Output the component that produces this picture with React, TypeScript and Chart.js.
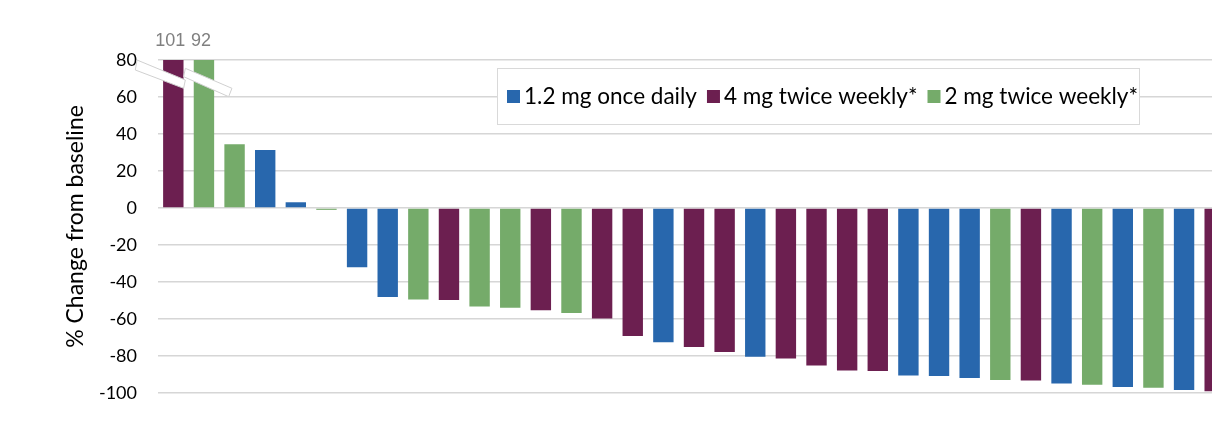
import React, { useEffect, useRef } from "react";
import { Chart, registerables } from "chart.js";

Chart.register(...registerables);

const patients = Array.from({ length: 35 }, (_, i) => String(i + 1));
const changes = [101, 92, 34.5, 31.4, 3.1, -1, -32, -48.1, -49.4, -49.7, -53.2, -53.9, -55.3, -56.8, -59.7, -69.2, -72.6, -75.1, -77.8, -80.4, -81.4, -85.1, -87.8, -88.1, -90.5, -90.8, -91.9, -93, -93.2, -94.8, -95.5, -96.8, -97.2, -98.4, -99.1];
// dose group per patient: 0 = 1.2 mg once daily, 1 = 4 mg twice weekly*, 2 = 2 mg twice weekly*
const doseGroup = [1, 2, 2, 0, 0, 2, 0, 0, 2, 1, 2, 2, 1, 2, 1, 1, 0, 1, 1, 0, 1, 1, 1, 1, 0, 0, 0, 2, 1, 0, 2, 0, 2, 0, 1];
const seriesNames = ["1.2 mg once daily", "4 mg twice weekly*", "2 mg twice weekly*"];
const seriesColors = ["#2867AD", "#6C1F50", "#75AB6A"];
const yTicks = [80, 60, 40, 20, 0, -20, -40, -60, -80, -100];
const yTitle = "% Change from baseline";

const FONT = "Lato, 'Liberation Sans', Arial, sans-serif";

const overflowLabels = {
  id: "overflowLabels",
  afterDatasetsDraw(chart: any) {
    const { ctx, chartArea } = chart;
    const yMax = chart.scales.y.max;
    ctx.save();
    ctx.font = "18px 'Liberation Sans', Arial, sans-serif";
    ctx.fillStyle = "#808080";
    ctx.textAlign = "center";
    ctx.textBaseline = "middle";
    const breaks: { x: number }[] = [];
    chart.data.datasets.forEach((ds: any, di: number) => {
      const meta = chart.getDatasetMeta(di);
      ds.data.forEach((v: number | null, i: number) => {
        if (v !== null && v > yMax) {
          const el = meta.data[i];
          ctx.fillText(String(v), el.x - 3, chartArea.top - 19);
          breaks.push({ x: el.x });
        }
      });
    });
    breaks.sort((a, b) => a.x - b.x);
    const top = chartArea.top;
    const shapes = [
      [[-36.3, 0], [12, 20], [10.3, 28.3], [-38, 10]],
      [[-18.6, 8.3], [28, 28.3], [24.7, 36.7], [-20.3, 16.7]],
    ];
    breaks.forEach((b, k) => {
      const s = shapes[Math.min(k, shapes.length - 1)];
      ctx.beginPath();
      s.forEach(([dx, dy], j) => {
        if (j === 0) ctx.moveTo(b.x + dx, top + dy);
        else ctx.lineTo(b.x + dx, top + dy);
      });
      ctx.closePath();
      ctx.fillStyle = "#ffffff";
      ctx.fill();
      ctx.strokeStyle = "#d0d0d0";
      ctx.lineWidth = 1;
      ctx.stroke();
    });
    ctx.restore();
  },
};

const boxLegend = {
  id: "boxLegend",
  afterDraw(chart: any) {
    const { ctx } = chart;
    ctx.save();
    const bx = 497, by = 68, bw = 642, bh = 56;
    ctx.fillStyle = "#ffffff";
    ctx.fillRect(bx, by, bw, bh);
    ctx.strokeStyle = "#d9d9d9";
    ctx.lineWidth = 1;
    ctx.strokeRect(bx + 0.5, by + 0.5, bw, bh);
    ctx.font = "20px " + FONT;
    const w0 = ctx.measureText(seriesNames[0]).width;
    const size = (20 * 173) / w0;
    ctx.font = size.toFixed(2) + "px " + FONT;
    ctx.textBaseline = "middle";
    ctx.textAlign = "left";
    let x = 507;
    const cy = by + bh / 2 + 0.5;
    chart.data.datasets.forEach((ds: any) => {
      ctx.fillStyle = ds.backgroundColor;
      ctx.fillRect(x, cy - 6.5, 13, 13);
      x += 17;
      ctx.fillStyle = "#000000";
      ctx.fillText(ds.label, x, cy);
      x += ctx.measureText(ds.label).width + 10;
    });
    ctx.restore();
  },
};

export default function App() {
  const ref = useRef<HTMLCanvasElement>(null);
  useEffect(() => {
    if (!ref.current) return;
    const datasets = seriesNames.map((name, g) => ({
      label: name,
      data: changes.map((v, i) => (doseGroup[i] === g ? v : null)),
      backgroundColor: seriesColors[g],
      borderWidth: 0,
      grouped: false,
      categoryPercentage: 1,
      barPercentage: 0.666,
    }));
    const chart = new Chart(ref.current, {
      type: "bar",
      data: { labels: patients, datasets },
      options: {
        animation: false,
        responsive: true,
        maintainAspectRatio: false,
        layout: { padding: { top: 60, bottom: 40, left: 0, right: 0 } },
        plugins: { legend: { display: false }, tooltip: { enabled: false } },
        scales: {
          x: { display: false },
          y: {
            min: -100,
            max: 80,
            afterFit(scale: any) {
              scale.width = 158;
            },
            afterBuildTicks(scale: any) {
              scale.ticks = yTicks.map((v) => ({ value: v }));
            },
            border: { display: false },
            grid: { color: "#d6d6d6", lineWidth: 1.5, drawTicks: false },
            ticks: {
              color: "#000000",
              padding: 21,
              font: { family: FONT, size: 18 },
            },
            title: {
              display: true,
              text: yTitle,
              color: "#000000",
              font: { family: FONT, size: 23 },
              padding: { top: 62, bottom: 0 },
            },
          },
        },
      },
      plugins: [overflowLabels, boxLegend],
    });
    return () => chart.destroy();
  }, []);
  return (
    <div style={{ position: "fixed", left: 0, top: 0, width: 1212, height: 433, overflow: "hidden", background: "#fff" }}>
      <div style={{ position: "absolute", left: 0, top: 0, width: 1230, height: 433 }}>
        <canvas ref={ref} />
      </div>
    </div>
  );
}
